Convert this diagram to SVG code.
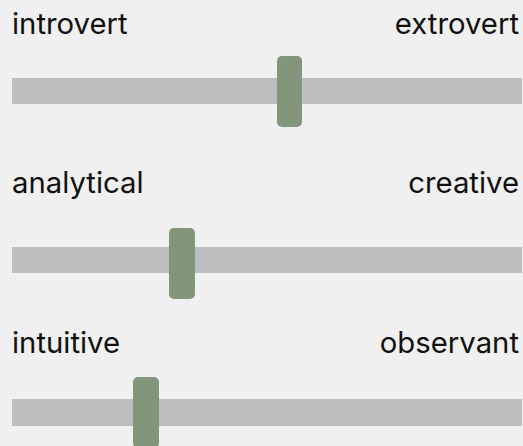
<svg xmlns="http://www.w3.org/2000/svg" width="523" height="446" viewBox="0 0 523 446">
<style>
.bg{fill:#eff0ef}
.track{fill:#bdbec0}
.knob{fill:#83957a}
.lbl{font-family:Inter,"Liberation Sans",Arial,sans-serif;font-size:29.3px;fill:#111}
.r{text-anchor:end}
</style>
<rect class="bg" x="0" y="0" width="523" height="446"/>
<g id="slider-1">
<text class="lbl" x="12" y="34">introvert</text>
<text class="lbl r" x="519" y="34">extrovert</text>
<rect class="track" x="12" y="78" width="510" height="26"/>
<rect class="knob" x="277" y="56" width="25" height="71" rx="5"/>
</g>
<g id="slider-2">
<text class="lbl" x="12" y="193">analytical</text>
<text class="lbl r" x="519" y="193">creative</text>
<rect class="track" x="12" y="247" width="510" height="26"/>
<rect class="knob" x="169" y="228" width="26" height="71" rx="5"/>
</g>
<g id="slider-3">
<text class="lbl" x="12" y="353">intuitive</text>
<text class="lbl r" x="519" y="353">observant</text>
<rect class="track" x="12" y="399" width="510" height="27"/>
<rect class="knob" x="133" y="377" width="26" height="71" rx="5"/>
</g>
<g id="connectors"/>
</svg>
